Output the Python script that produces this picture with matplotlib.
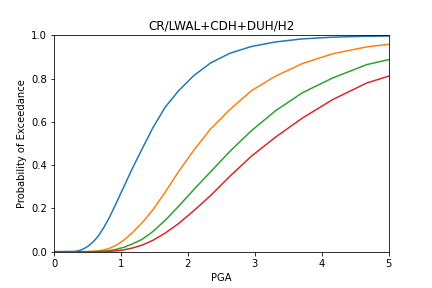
import numpy as np
import matplotlib
matplotlib.use("Agg")
import matplotlib.pyplot as plt

# PGA sample points
pga = [0.0, 0.30, 0.33, 0.37, 0.42, 0.47, 0.52, 0.59, 0.66, 0.74, 0.83, 0.93,
       1.05, 1.17, 1.32, 1.48, 1.66, 1.86, 2.09, 2.34, 2.63, 2.95, 3.31, 3.71,
       4.16, 4.67, 5.24]

# exceedance probabilities per damage state
ds1 = [0.0, 0.001, 0.002, 0.005, 0.010, 0.018, 0.028, 0.047, 0.072, 0.110, 0.160, 0.225,
       0.305, 0.385, 0.478, 0.575, 0.668, 0.744, 0.815, 0.873, 0.918, 0.949, 0.970, 0.984,
       0.992, 0.996, 0.998]
ds2 = [0.0, 0.0, 0.0, 0.0, 0.0, 0.0, 0.001, 0.002, 0.004, 0.008, 0.016, 0.030,
       0.055, 0.088, 0.135, 0.195, 0.275, 0.370, 0.470, 0.568, 0.658, 0.745, 0.812, 0.870,
       0.915, 0.947, 0.968]
ds3 = [0.0, 0.0, 0.0, 0.0, 0.0, 0.0, 0.0, 0.0, 0.001, 0.002, 0.005, 0.011,
       0.021, 0.036, 0.058, 0.094, 0.145, 0.210, 0.288, 0.370, 0.465, 0.560, 0.652, 0.735,
       0.803, 0.865, 0.905]
ds4 = [0.0, 0.0, 0.0, 0.0, 0.0, 0.0, 0.0, 0.0, 0.0, 0.001, 0.002, 0.004,
       0.009, 0.017, 0.031, 0.053, 0.086, 0.130, 0.190, 0.260, 0.350, 0.442, 0.530, 0.618,
       0.703, 0.780, 0.835]

fig, ax = plt.subplots(figsize=(6, 4), dpi=72)
fig.subplots_adjust(left=0.125, right=0.9, bottom=0.126, top=0.877)

for ds in [ds1, ds2, ds3, ds4]:
    ax.plot(pga, ds)

ax.set_xlim(0, 5)
ax.set_ylim(0, 1)
ax.set_title("CR/LWAL+CDH+DUH/H2")
ax.set_xlabel("PGA")
ax.set_ylabel("Probability of Exceedance")

fig.savefig("out.png")
